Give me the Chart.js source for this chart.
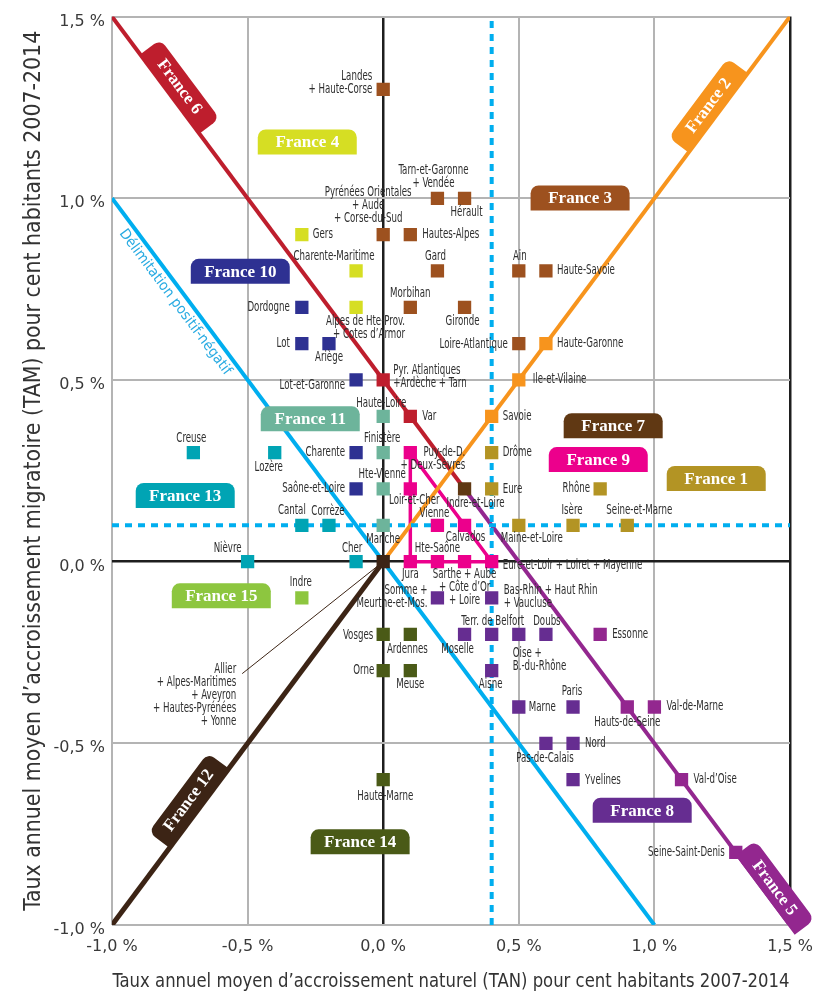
<!DOCTYPE html>
<html lang="fr">
<head>
<meta charset="utf-8">
<title>TAN / TAM 2007-2014</title>
<script src="https://cdn.jsdelivr.net/npm/chart.js@4.4.1/dist/chart.umd.min.js"></script>
<style>
  html, body { margin: 0; padding: 0; background: #fff; }
  #wrap { width: 832px; height: 998px; }
</style>
</head>
<body>
<div id="wrap"><canvas id="chart" width="832" height="998"></canvas></div>
<script>
// ===========================
// Axes
// ===========================
const xTickLabels = ['-1,0 %', '-0,5 %', '0,0 %', '0,5 %', '1,0 %', '1,5 %'];
const yTickLabels = ['-1,0 %', '-0,5 %', '0,0 %', '0,5 %', '1,0 %', '1,5 %'];
const xTitle = 'Taux annuel moyen d’accroissement naturel (TAN) pour cent habitants 2007-2014';
const yTitle = 'Taux annuel moyen d’accroissement migratoire (TAM) pour cent habitants 2007-2014';

// ===========================
// Departments per group (TAN = x, TAM = y)
// ===========================
const f1Names = ['Drôme', 'Eure', 'Rhône', 'Maine-et-Loire', 'Isère', 'Seine-et-Marne'];
const f1Tan = [0.4, 0.4, 0.8, 0.5, 0.7, 0.9];
const f1Tam = [0.3, 0.2, 0.2, 0.1, 0.1, 0.1];

const f2Names = ['Savoie', 'Ile-et-Vilaine', 'Haute-Garonne'];
const f2Tan = [0.4, 0.5, 0.6];
const f2Tam = [0.4, 0.5, 0.6];

const f3Names = ['Landes\n+ Haute-Corse', 'Tarn-et-Garonne\n+ Vendée', 'Hérault', 'Pyrénées Orientales\n+ Aude\n+ Corse-du-Sud',
    'Hautes-Alpes', 'Gard', 'Ain', 'Haute-Savoie', 'Morbihan', 'Gironde', 'Loire-Atlantique'];
const f3Tan = [0.0, 0.2, 0.3, 0.0, 0.1, 0.2, 0.5, 0.6, 0.1, 0.3, 0.5];
const f3Tam = [1.3, 1.0, 1.0, 0.9, 0.9, 0.8, 0.8, 0.8, 0.7, 0.7, 0.6];

const f4Names = ['Gers', 'Charente-Maritime', 'Alpes de Hte-Prov.\n+ Cotes d’Armor'];
const f4Tan = [-0.3, -0.1, -0.1];
const f4Tam = [0.9, 0.8, 0.7];

const f5Names = ['Essonne', 'Hauts-de-Seine', 'Val-de-Marne', 'Val-d’Oise', 'Seine-Saint-Denis'];
const f5Tan = [0.8, 0.9, 1.0, 1.1, 1.3];
const f5Tam = [-0.2, -0.4, -0.4, -0.6, -0.8];

const f6Names = ['Pyr. Atlantiques\n+Ardèche + Tarn', 'Var'];
const f6Tan = [0.0, 0.1];
const f6Tam = [0.5, 0.4];

const f7Names = ['Indre-et-Loire'];
const f7Tan = [0.3];
const f7Tam = [0.2];

const f8Names = ['Somme +\nMeurthe-et-Mos.', 'Bas-Rhin + Haut Rhin\n+ Vaucluse', 'Moselle', 'Terr. de Belfort', 'Oise +\nB.-du-Rhône',
    'Doubs', 'Aisne', 'Marne', 'Paris', 'Pas-de-Calais', 'Nord', 'Yvelines'];
const f8Tan = [0.2, 0.4, 0.3, 0.4, 0.5, 0.6, 0.4, 0.5, 0.7, 0.6, 0.7, 0.7];
const f8Tam = [-0.1, -0.1, -0.2, -0.2, -0.2, -0.2, -0.3, -0.4, -0.4, -0.5, -0.5, -0.6];

const f9Names = ['Puy-de-D.\n+ Deux-Sèvres', 'Loir-et-Cher', 'Vienne', 'Calvados', 'Jura', 'Hte-Saône',
    'Sarthe + Aube\n+ Côte d’Or\n+ Loire', 'Eure-et-Loir + Loiret + Mayenne'];
const f9Tan = [0.1, 0.1, 0.2, 0.3, 0.1, 0.2, 0.3, 0.4];
const f9Tam = [0.3, 0.2, 0.1, 0.1, 0.0, 0.0, 0.0, 0.0];

const f10Names = ['Dordogne', 'Lot', 'Ariège', 'Lot-et-Garonne', 'Charente', 'Saône-et-Loire'];
const f10Tan = [-0.3, -0.3, -0.2, -0.1, -0.1, -0.1];
const f10Tam = [0.7, 0.6, 0.6, 0.5, 0.3, 0.2];

const f11Names = ['Haute-Loire', 'Finistère', 'Hte-Vienne', 'Manche'];
const f11Tan = [0.0, 0.0, 0.0, 0.0];
const f11Tam = [0.4, 0.3, 0.2, 0.1];

const f12Names = ['Allier\n+ Alpes-Maritimes\n+ Aveyron\n+ Hautes-Pyrénées\n+ Yonne'];
const f12Tan = [0.0];
const f12Tam = [0.0];

const f13Names = ['Creuse', 'Lozère', 'Cantal', 'Corrèze', 'Nièvre', 'Cher'];
const f13Tan = [-0.7, -0.4, -0.3, -0.2, -0.5, -0.1];
const f13Tam = [0.3, 0.3, 0.1, 0.1, 0.0, 0.0];

const f14Names = ['Vosges', 'Ardennes', 'Orne', 'Meuse', 'Haute-Marne'];
const f14Tan = [0.0, 0.1, 0.0, 0.1, 0.0];
const f14Tam = [-0.2, -0.2, -0.3, -0.3, -0.6];

const f15Names = ['Indre'];
const f15Tan = [-0.3];
const f15Tam = [-0.1];

// ===========================
// Reference lines
// ===========================
const lineF6Tan = [-1.0, 0.3];   const lineF6Tam = [1.5, 0.2];
const lineF5Tan = [0.3, 1.5];    const lineF5Tam = [0.2, -1.0];
const lineF2Tan = [0.0, 1.5];    const lineF2Tam = [0.0, 1.5];
const lineF12Tan = [-1.0, 0.0];  const lineF12Tam = [-1.0, 0.0];
const lineF9Tan = [0.1, 0.1, 0.4, 0.1]; const lineF9Tam = [0.0, 0.3, 0.0, 0.0];
const limitTan = [-1.0, 1.0];    const limitTam = [1.0, -1.0];
const dotHTan = [-1.0, 1.5];     const dotHTam = [0.1, 0.1];
const dotVTan = [0.4, 0.4];      const dotVTam = [-1.0, 1.5];

// ===========================
// Styles & layout
// ===========================
const colors = {
    'France 1': '#b39424', 'France 2': '#f7941d', 'France 3': '#9d511f', 'France 4': '#d6de23',
    'France 5': '#93278f', 'France 6': '#be1e2d', 'France 7': '#603813', 'France 8': '#662d91',
    'France 9': '#ec008c', 'France 10': '#2e3192', 'France 11': '#6db49b', 'France 12': '#3c2415',
    'France 13': '#00a4b4', 'France 14': '#4a5a17', 'France 15': '#8dc63f'
};
const CYAN = '#00aeef';

const groups = [
    ['France 1', f1Names, f1Tan, f1Tam], ['France 2', f2Names, f2Tan, f2Tam],
    ['France 3', f3Names, f3Tan, f3Tam], ['France 4', f4Names, f4Tan, f4Tam],
    ['France 5', f5Names, f5Tan, f5Tam], ['France 6', f6Names, f6Tan, f6Tam],
    ['France 7', f7Names, f7Tan, f7Tam], ['France 8', f8Names, f8Tan, f8Tam],
    ['France 9', f9Names, f9Tan, f9Tam], ['France 10', f10Names, f10Tan, f10Tam],
    ['France 11', f11Names, f11Tan, f11Tam], ['France 12', f12Names, f12Tan, f12Tam],
    ['France 13', f13Names, f13Tan, f13Tam], ['France 14', f14Names, f14Tan, f14Tam],
    ['France 15', f15Names, f15Tan, f15Tam]
];

// label placement relative to its square: [align, dx, dy of first line]
const labelPlace = {
    'Landes\n+ Haute-Corse': ['right', -11, -13],
    'Tarn-et-Garonne\n+ Vendée': ['center', -4, -28],
    'Hérault': ['center', 2, 14],
    'Pyrénées Orientales\n+ Aude\n+ Corse-du-Sud': ['center', -15, -42],
    'Hautes-Alpes': ['left', 12, 0],
    'Gard': ['center', -2, -14],
    'Ain': ['center', 1, -14],
    'Haute-Savoie': ['left', 11, 0],
    'Morbihan': ['center', 0, -14],
    'Gironde': ['center', -2, 14],
    'Loire-Atlantique': ['right', -11, 1],
    'Gers': ['left', 11, 0],
    'Charente-Maritime': ['center', -22, -14],
    'Alpes de Hte-Prov.\n+ Cotes d’Armor': ['right', 49, 14],
    'Dordogne': ['right', -12, 0],
    'Lot': ['right', -12, 0],
    'Ariège': ['center', 0, 14],
    'Lot-et-Garonne': ['right', -11, 6],
    'Charente': ['right', -11, 0],
    'Saône-et-Loire': ['right', -11, 0],
    'Pyr. Atlantiques\n+Ardèche + Tarn': ['left', 10, -9],
    'Var': ['left', 12, 0],
    'Haute-Garonne': ['left', 11, 0],
    'Ile-et-Vilaine': ['left', 14, 0],
    'Savoie': ['left', 11, 0],
    'Haute-Loire': ['center', -2, -13],
    'Finistère': ['center', -1, -14],
    'Hte-Vienne': ['center', -1, -14],
    'Manche': ['center', 0, 14],
    'Creuse': ['center', -2, -14],
    'Lozère': ['center', -6, 15],
    'Cantal': ['center', -10, -15],
    'Corrèze': ['center', -1, -14],
    'Nièvre': ['right', -6, -13],
    'Cher': ['center', -4, -13],
    'Indre': ['center', -1, -15],
    'Puy-de-D.\n+ Deux-Sèvres': ['right', 55, 0],
    'Loir-et-Cher': ['center', 4, 12],
    'Vienne': ['center', -3, -12],
    'Calvados': ['center', 1, 12],
    'Jura': ['center', 0, 13],
    'Hte-Saône': ['center', 0, -13],
    'Sarthe + Aube\n+ Côte d’Or\n+ Loire': ['center', 0, 13],
    'Eure-et-Loir + Loiret + Mayenne': ['left', 11, 4],
    'Drôme': ['left', 11, 0],
    'Eure': ['left', 11, 1],
    'Rhône': ['right', -10, 0],
    'Maine-et-Loire': ['center', 13, 13],
    'Isère': ['center', -1, -15],
    'Seine-et-Marne': ['center', 12, -15],
    'Vosges': ['right', -10, 1],
    'Ardennes': ['center', -3, 15],
    'Orne': ['right', -9, 0],
    'Meuse': ['center', 0, 14],
    'Haute-Marne': ['center', 2, 17],
    'Somme +\nMeurthe-et-Mos.': ['right', -10, -7],
    'Bas-Rhin + Haut Rhin\n+ Vaucluse': ['left', 12, -7],
    'Moselle': ['center', -7, 15],
    'Terr. de Belfort': ['center', 1, -13],
    'Oise +\nB.-du-Rhône': ['left', -6, 19],
    'Doubs': ['center', 1, -13],
    'Aisne': ['center', -1, 14],
    'Marne': ['left', 10, 1],
    'Paris': ['center', -1, -15],
    'Pas-de-Calais': ['center', -1, 15],
    'Nord': ['left', 12, 0],
    'Yvelines': ['left', 12, 1],
    'Essonne': ['left', 12, 0],
    'Hauts-de-Seine': ['center', 0, 16],
    'Val-de-Marne': ['left', 12, 0],
    'Val-d’Oise': ['left', 12, 0],
    'Seine-Saint-Denis': ['right', -11, 0],
    'Allier\n+ Alpes-Maritimes\n+ Aveyron\n+ Hautes-Pyrénées\n+ Yonne': ['right', -147, 108, true],
    'Indre-et-Loire': ['center', 11, 15]
};

// group badges, anchored in axis units; tilt follows the diagonal lines
const badges = [
    ['France 1', 1.228, 0.229, 0], ['France 2', 1.198, 1.256, -1], ['France 3', 0.726, 1.001, 0],
    ['France 4', -0.28, 1.155, 0], ['France 5', 1.445, -0.897, 1], ['France 6', -0.749, 1.308, 1],
    ['France 7', 0.848, 0.374, 0], ['France 8', 0.955, -0.684, 0], ['France 9', 0.793, 0.281, 0],
    ['France 10', -0.527, 0.799, 0], ['France 11', -0.269, 0.393, 0], ['France 12', -0.719, -0.656, -1],
    ['France 13', -0.730, 0.182, 0], ['France 14', -0.085, -0.771, 0], ['France 15', -0.597, -0.094, 0]
];

// ===========================
// Condensed font helpers
// ===========================
function pickFamily(list) {
    const c = document.createElement('canvas').getContext('2d');
    const probe = 'abcdefghijklmnopqrstuvwxyz';
    c.font = '40px monospace';
    const base = c.measureText(probe).width;
    for (const f of list) {
        c.font = `40px "${f}", monospace`;
        if (Math.abs(c.measureText(probe).width - base) > 0.5) return f;
    }
    return 'sans-serif';
}
const NARROW = pickFamily(['Liberation Sans Narrow', 'DejaVu Sans Condensed', 'Roboto Condensed', 'Roboto']);

function fitScale(ctx, text, size, target) {
    ctx.save();
    ctx.font = `${size}px "${NARROW}", sans-serif`;
    const w = ctx.measureText(text).width;
    ctx.restore();
    return Math.min(1.15, target / w);
}

function narrowText(ctx, text, x, y, size, sx, align) {
    ctx.save();
    ctx.translate(x, y);
    ctx.scale(sx, 1);
    ctx.font = `${size}px "${NARROW}", sans-serif`;
    ctx.textAlign = align;
    ctx.textBaseline = 'middle';
    ctx.fillText(text, 0, 0);
    ctx.restore();
}

// ===========================
// Datasets
// ===========================
function pts(tan, tam) {
    return tan.map((v, i) => ({ x: v, y: tam[i] }));
}

function refLine(tan, tam, color, width, dash) {
    return {
        data: pts(tan, tam), showLine: true, borderColor: color, borderWidth: width,
        borderDash: dash || [], pointRadius: 0, fill: false, order: 10
    };
}

const datasets = [
    refLine(dotHTan, dotHTam, CYAN, 4, [7, 6]),
    refLine(dotVTan, dotVTam, CYAN, 4, [7, 6]),
    refLine(limitTan, limitTam, CYAN, 4),
    refLine(lineF12Tan, lineF12Tam, colors['France 12'], 5),
    refLine(lineF2Tan, lineF2Tam, colors['France 2'], 4),
    refLine(lineF9Tan, lineF9Tam, colors['France 9'], 3.5),
    refLine(lineF6Tan, lineF6Tam, colors['France 6'], 4),
    refLine(lineF5Tan, lineF5Tam, colors['France 5'], 4)
];
groups.forEach(([name, , tan, tam]) => {
    datasets.push({
        label: name, data: pts(tan, tam), showLine: false,
        pointStyle: 'rect', pointRadius: 9.4, pointBorderWidth: 0,
        backgroundColor: colors[name], pointBackgroundColor: colors[name], order: 1
    });
});

// ===========================
// Labels, badges, titles
// ===========================
const LABEL_SIZE = 13.5;

const annotations = {
    id: 'annotations',
    afterDatasetsDraw(chart) {
        const ctx = chart.ctx;
        const xs = chart.scales.x, ys = chart.scales.y;
        const down = Math.atan2(ys.getPixelForValue(-1) - ys.getPixelForValue(0),
            xs.getPixelForValue(1) - xs.getPixelForValue(0));
        const sx = fitScale(ctx, 'Haute-Savoie', LABEL_SIZE, 58);

        // "Délimitation positif-négatif" along the cyan line
        ctx.save();
        ctx.translate(xs.getPixelForValue(-0.767), ys.getPixelForValue(0.714));
        ctx.rotate(down);
        ctx.fillStyle = '#29abe2';
        narrowText(ctx, 'Délimitation positif-négatif', 0, 0, 14.5, fitScale(ctx, 'Délimitation positif-négatif', 14.5, 178), 'center');
        ctx.restore();

        ctx.fillStyle = '#2e2e2e';
        groups.forEach(([, names, tan, tam]) => {
            names.forEach((name, i) => {
                const px = xs.getPixelForValue(tan[i]);
                const py = ys.getPixelForValue(tam[i]);
                const [align, dx, dy, leader] = labelPlace[name] || ['left', 11, 0];
                if (leader) {
                    ctx.save();
                    ctx.strokeStyle = colors['France 12'];
                    ctx.lineWidth = 1;
                    ctx.beginPath();
                    ctx.moveTo(px, py);
                    ctx.lineTo(px + dx + 6, py + dy + 4);
                    ctx.stroke();
                    ctx.restore();
                }
                name.split('\n').forEach((line, k) => {
                    narrowText(ctx, line, px + dx, py + dy + k * 13, LABEL_SIZE, sx, align);
                });
            });
        });
    },
    afterDraw(chart) {
        const ctx = chart.ctx;
        const xs = chart.scales.x, ys = chart.scales.y;
        const down = Math.atan2(ys.getPixelForValue(-1) - ys.getPixelForValue(0),
            xs.getPixelForValue(1) - xs.getPixelForValue(0));

        badges.forEach(([name, bx, by, tilt]) => {
            ctx.save();
            ctx.translate(xs.getPixelForValue(bx), ys.getPixelForValue(by));
            ctx.rotate(tilt * down);
            ctx.beginPath();
            ctx.roundRect(-49.5, -12.5, 99, 25, [8, 8, 0, 0]);
            ctx.fillStyle = colors[name];
            ctx.fill();
            ctx.fillStyle = '#fff';
            ctx.font = 'bold 17px "Liberation Serif", "DejaVu Serif", serif';
            ctx.textAlign = 'center';
            ctx.textBaseline = 'middle';
            ctx.fillText(name, 0, 1);
            ctx.restore();
        });

        // axis titles
        ctx.fillStyle = '#333';
        const area = chart.chartArea;
        narrowText(ctx, xTitle, (area.left + area.right) / 2, 982, 19, fitScale(ctx, xTitle, 19, 677), 'center');
        ctx.save();
        ctx.translate(34, (area.top + area.bottom) / 2);
        ctx.rotate(-Math.PI / 2);
        narrowText(ctx, yTitle, 0, 0, 23, fitScale(ctx, yTitle, 23, 880), 'center');
        ctx.restore();
    }
};

// ===========================
// Chart
// ===========================
const gridColor = ctx => {
    const v = ctx.tick.value;
    return Math.abs(v) < 1e-9 ? '#1e1e1e' : '#b4b4b4';
};

new Chart(document.getElementById('chart'), {
    type: 'scatter',
    data: { datasets },
    options: {
        responsive: false,
        animation: false,
        devicePixelRatio: 1,
        events: [],
        layout: { padding: { top: 12, right: 42, left: 0, bottom: 0 } },
        plugins: { legend: { display: false }, tooltip: { enabled: false } },
        scales: {
            x: {
                type: 'linear', min: -1, max: 1.5,
                afterFit: s => { s.height = 73; },
                ticks: {
                    stepSize: 0.5, padding: 12, color: '#3a3a3a',
                    font: { family: 'DejaVu Sans', size: 16 },
                    callback: (v, i) => xTickLabels[i]
                },
                grid: {
                    drawTicks: false,
                    color: c => (Math.abs(c.tick.value - 1.5) < 1e-9 ? '#1e1e1e' : gridColor(c)),
                    lineWidth: c => (Math.abs(c.tick.value) < 1e-9 || Math.abs(c.tick.value - 1.5) < 1e-9 ? 2.5 : 2)
                },
                border: { display: false }
            },
            y: {
                type: 'linear', min: -1, max: 1.5,
                afterFit: s => { s.width = 112; },
                ticks: {
                    stepSize: 0.5, padding: 7, labelOffset: 5, color: '#3a3a3a',
                    font: { family: 'DejaVu Sans', size: 16 },
                    callback: (v, i) => yTickLabels[i]
                },
                grid: {
                    drawTicks: false,
                    color: gridColor,
                    lineWidth: c => (Math.abs(c.tick.value) < 1e-9 ? 2.5 : 2)
                },
                border: { display: false }
            }
        }
    },
    plugins: [annotations]
});
</script>
</body>
</html>
